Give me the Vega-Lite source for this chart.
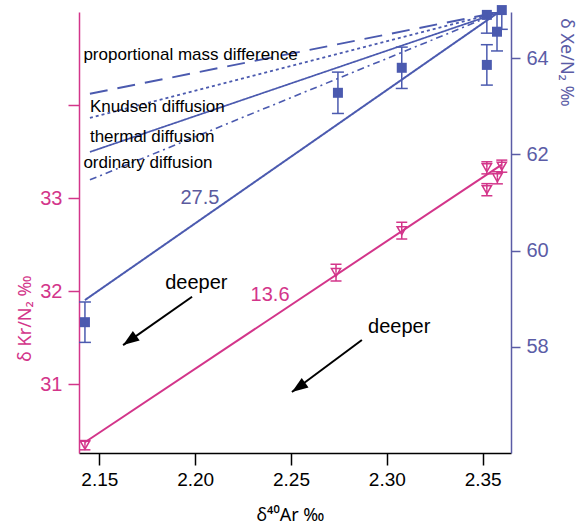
{
  "$schema": "https://vega.github.io/schema/vega-lite/v6.json",
  "width": 432,
  "height": 441,
  "autosize": {"type": "none"},
  "padding": {"left": 79, "top": 12, "right": 77, "bottom": 75},
  "background": "white",
  "config": {"view": {"stroke": null}, "font": "Liberation Sans", "axis": {"grid": false}},
  "datasets": {
    "kr": [
      {"x": 2.1425, "y": 30.344, "lo": 30.294, "hi": 30.394},
      {"x": 2.2735, "y": 32.2, "lo": 32.11, "hi": 32.29},
      {"x": 2.3078, "y": 32.65, "lo": 32.56, "hi": 32.74},
      {"x": 2.3522, "y": 33.325, "lo": 33.26, "hi": 33.39},
      {"x": 2.3522, "y": 33.09, "lo": 33.025, "hi": 33.155},
      {"x": 2.3577, "y": 33.218, "lo": 33.153, "hi": 33.283},
      {"x": 2.36, "y": 33.343, "lo": 33.278, "hi": 33.408}
    ],
    "krfit": [
      {"x": 2.1425, "y": 30.376},
      {"x": 2.36, "y": 33.36}
    ],
    "xe": [
      {"x": 2.1425, "y": 58.51, "lo": 58.09, "hi": 58.93},
      {"x": 2.2745, "y": 63.28, "lo": 62.85, "hi": 63.71},
      {"x": 2.3078, "y": 63.8, "lo": 63.37, "hi": 64.23},
      {"x": 2.3522, "y": 63.86, "lo": 63.44, "hi": 64.28},
      {"x": 2.3522, "y": 64.9, "lo": 64.52, "hi": 65.28},
      {"x": 2.3575, "y": 64.55, "lo": 64.15, "hi": 64.95},
      {"x": 2.36, "y": 65.0, "lo": 64.6, "hi": 65.4}
    ],
    "xelines": [
      {"line": "fit", "x": 2.1425, "y": 58.97},
      {"line": "fit", "x": 2.36, "y": 65.0},
      {"line": "prop", "x": 2.1451, "y": 63.26},
      {"line": "prop", "x": 2.36, "y": 64.97},
      {"line": "knudsen", "x": 2.1451, "y": 62.76},
      {"line": "knudsen", "x": 2.36, "y": 64.97},
      {"line": "thermal", "x": 2.1451, "y": 62.05},
      {"line": "thermal", "x": 2.36, "y": 64.97},
      {"line": "ordinary", "x": 2.1451, "y": 61.47},
      {"line": "ordinary", "x": 2.36, "y": 64.97}
    ],
    "modellabels": [
      {"x": 2.1417, "y": 64.07, "label": "proportional mass difference"},
      {"x": 2.1451, "y": 62.99, "label": "Knudsen diffusion"},
      {"x": 2.1451, "y": 62.36, "label": "thermal diffusion"},
      {"x": 2.1417, "y": 61.82, "label": "ordinary diffusion"}
    ],
    "deeper": [
      {"x": 2.1844, "y": 32.09, "label": "deeper"},
      {"x": 2.2902, "y": 31.615, "label": "deeper"}
    ],
    "arrows": [
      {"x": 2.1624, "y": 31.42, "x2": 2.1984, "y2": 31.94},
      {"x": 2.2505, "y": 30.915, "x2": 2.287, "y2": 31.475}
    ]
  },
  "encoding": {
    "x": {
      "field": "x", "type": "quantitative",
      "scale": {"domain": [2.1394, 2.3648], "nice": false, "zero": false},
      "axis": {
        "title": "δ⁴⁰Ar ‰", "values": [2.15, 2.2, 2.25, 2.3, 2.35], "format": ".2f",
        "domainColor": "black", "domainWidth": 1.5, "tickColor": "black", "tickWidth": 1.5, "tickSize": 12,
        "labelFontSize": 19, "labelColor": "black", "labelPadding": 5,
        "titleFont": "Noto Sans", "titleFontSize": 18, "titleFontWeight": "normal", "titleColor": "black",
        "titleX": 211, "titleY": 62, "titleBaseline": "middle", "titleAlign": "center"
      }
    }
  },
  "layer": [
    {
      "encoding": {
        "y": {
          "field": "y", "type": "quantitative",
          "scale": {"domain": [30.26, 35.0], "nice": false, "zero": false},
          "axis": {
            "orient": "left", "title": "δ Kr/N₂ ‰", "values": [31, 32, 33, 34],
            "labelExpr": "datum.value == 34 ? '' : datum.label",
            "domainColor": "#d3358a", "domainWidth": 1.5, "tickColor": "#d3358a", "tickWidth": 1.5, "tickSize": 11,
            "labelColor": "#d3358a", "labelFontSize": 20, "labelPadding": 6,
            "titleFont": "Noto Sans", "titleColor": "#d3358a", "titleFontSize": 18, "titleFontWeight": "normal",
            "titleAngle": -90, "titleX": -54, "titleY": 306, "titleAlign": "center", "titleBaseline": "middle"
          }
        }
      },
      "layer": [
        {
          "data": {"name": "krfit"},
          "mark": {"type": "line", "color": "#d3358a", "strokeWidth": 2}
        },
        {
          "data": {"name": "kr"},
          "mark": {"type": "point", "shape": "triangle-down", "filled": false, "size": 85, "strokeWidth": 1.5, "color": "#d3358a", "opacity": 1}
        },
        {
          "data": {"name": "kr"},
          "mark": {"type": "rule", "color": "#d3358a", "strokeWidth": 1.5},
          "encoding": {"y2": {"field": "hi"}}
        },
        {
          "data": {"name": "kr"},
          "mark": {"type": "rule", "color": "#d3358a", "strokeWidth": 1.5},
          "encoding": {"y2": {"field": "lo"}}
        },
        {
          "data": {"name": "kr"},
          "mark": {"type": "tick", "orient": "horizontal", "size": 11, "thickness": 1.5, "color": "#d3358a", "opacity": 1},
          "encoding": {
            "y": {
              "field": "hi", "type": "quantitative",
              "scale": {"domain": [30.26, 35.0], "nice": false, "zero": false},
              "axis": {
                "orient": "left", "title": "δ Kr/N₂ ‰", "values": [31, 32, 33, 34],
                "labelExpr": "datum.value == 34 ? '' : datum.label",
                "domainColor": "#d3358a", "domainWidth": 1.5, "tickColor": "#d3358a", "tickWidth": 1.5, "tickSize": 11,
                "labelColor": "#d3358a", "labelFontSize": 20, "labelPadding": 6,
                "titleFont": "Noto Sans", "titleColor": "#d3358a", "titleFontSize": 18, "titleFontWeight": "normal",
                "titleAngle": -90, "titleX": -54, "titleY": 306, "titleAlign": "center", "titleBaseline": "middle"
              }
            }
          }
        },
        {
          "data": {"name": "kr"},
          "mark": {"type": "tick", "orient": "horizontal", "size": 11, "thickness": 1.5, "color": "#d3358a", "opacity": 1},
          "encoding": {
            "y": {
              "field": "lo", "type": "quantitative",
              "scale": {"domain": [30.26, 35.0], "nice": false, "zero": false},
              "axis": {
                "orient": "left", "title": "δ Kr/N₂ ‰", "values": [31, 32, 33, 34],
                "labelExpr": "datum.value == 34 ? '' : datum.label",
                "domainColor": "#d3358a", "domainWidth": 1.5, "tickColor": "#d3358a", "tickWidth": 1.5, "tickSize": 11,
                "labelColor": "#d3358a", "labelFontSize": 20, "labelPadding": 6,
                "titleFont": "Noto Sans", "titleColor": "#d3358a", "titleFontSize": 18, "titleFontWeight": "normal",
                "titleAngle": -90, "titleX": -54, "titleY": 306, "titleAlign": "center", "titleBaseline": "middle"
              }
            }
          }
        },
        {
          "data": {"name": "deeper"},
          "mark": {"type": "text", "align": "left", "baseline": "middle", "fontSize": 20, "color": "black"},
          "encoding": {"text": {"field": "label"}}
        },
        {
          "data": {"values": [{"x": 2.2391, "y": 31.96, "label": "13.6"}]},
          "mark": {"type": "text", "align": "center", "baseline": "middle", "fontSize": 20, "color": "#d3358a"},
          "encoding": {"text": {"field": "label"}}
        },
        {
          "data": {"name": "arrows"},
          "mark": {"type": "rule", "color": "black", "strokeWidth": 2},
          "encoding": {"x2": {"field": "x2"}, "y2": {"field": "y2"}}
        },
        {
          "data": {"name": "arrows"},
          "mark": {"type": "point", "shape": "M0,0L1.3,3.6L-1.3,3.6Z", "filled": true, "size": 81, "angle": 234.5, "color": "black", "opacity": 1}
        }
      ]
    },
    {
      "encoding": {
        "y": {
          "field": "y", "type": "quantitative",
          "scale": {"domain": [55.79, 64.96], "nice": false, "zero": false},
          "axis": {
            "orient": "right", "title": "δ Xe/N₂ ‰", "values": [58, 60, 62, 64],
            "domainColor": "#5b5ca6", "domainWidth": 1.5, "tickColor": "#5b5ca6", "tickWidth": 1.5, "tickSize": 9,
            "labelColor": "#5b5ca6", "labelFontSize": 20, "labelPadding": 6,
            "titleFont": "Noto Sans", "titleColor": "#5b5ca6", "titleFontSize": 18, "titleFontWeight": "normal",
            "titleAngle": 90, "titleX": 54, "titleY": 50, "titleAlign": "center", "titleBaseline": "middle"
          }
        }
      },
      "layer": [
        {
          "data": {"name": "xelines"},
          "mark": {"type": "line", "color": "#4b5aaf"},
          "encoding": {
            "detail": {"field": "line"},
            "strokeDash": {
              "field": "line", "type": "nominal", "legend": null,
              "scale": {"domain": ["fit", "prop", "knudsen", "thermal", "ordinary"], "range": [[1, 0], [18, 10], [3, 3], [1, 0], [7, 4, 2, 4]]}
            },
            "strokeWidth": {
              "field": "line", "type": "nominal", "legend": null,
              "scale": {"domain": ["fit", "prop", "knudsen", "thermal", "ordinary"], "range": [2, 1.6, 1.6, 1.6, 1.6]}
            }
          }
        },
        {
          "data": {"name": "xe"},
          "mark": {"type": "point", "shape": "square", "filled": true, "size": 100, "color": "#4b5aaf", "opacity": 1}
        },
        {
          "data": {"name": "xe"},
          "mark": {"type": "rule", "color": "#4b5aaf", "strokeWidth": 1.5, "clip": true},
          "encoding": {"y2": {"field": "hi"}}
        },
        {
          "data": {"name": "xe"},
          "mark": {"type": "rule", "color": "#4b5aaf", "strokeWidth": 1.5, "clip": true},
          "encoding": {"y2": {"field": "lo"}}
        },
        {
          "data": {"name": "xe"},
          "mark": {"type": "tick", "orient": "horizontal", "size": 12, "thickness": 1.5, "color": "#4b5aaf", "opacity": 1, "clip": true},
          "encoding": {
            "y": {
              "field": "hi", "type": "quantitative",
              "scale": {"domain": [55.79, 64.96], "nice": false, "zero": false},
              "axis": {
                "orient": "right", "title": "δ Xe/N₂ ‰", "values": [58, 60, 62, 64],
                "domainColor": "#5b5ca6", "domainWidth": 1.5, "tickColor": "#5b5ca6", "tickWidth": 1.5, "tickSize": 9,
                "labelColor": "#5b5ca6", "labelFontSize": 20, "labelPadding": 6,
                "titleFont": "Noto Sans", "titleColor": "#5b5ca6", "titleFontSize": 18, "titleFontWeight": "normal",
                "titleAngle": 90, "titleX": 54, "titleY": 50, "titleAlign": "center", "titleBaseline": "middle"
              }
            }
          }
        },
        {
          "data": {"name": "xe"},
          "mark": {"type": "tick", "orient": "horizontal", "size": 12, "thickness": 1.5, "color": "#4b5aaf", "opacity": 1, "clip": true},
          "encoding": {
            "y": {
              "field": "lo", "type": "quantitative",
              "scale": {"domain": [55.79, 64.96], "nice": false, "zero": false},
              "axis": {
                "orient": "right", "title": "δ Xe/N₂ ‰", "values": [58, 60, 62, 64],
                "domainColor": "#5b5ca6", "domainWidth": 1.5, "tickColor": "#5b5ca6", "tickWidth": 1.5, "tickSize": 9,
                "labelColor": "#5b5ca6", "labelFontSize": 20, "labelPadding": 6,
                "titleFont": "Noto Sans", "titleColor": "#5b5ca6", "titleFontSize": 18, "titleFontWeight": "normal",
                "titleAngle": 90, "titleX": 54, "titleY": 50, "titleAlign": "center", "titleBaseline": "middle"
              }
            }
          }
        },
        {
          "data": {"name": "modellabels"},
          "mark": {"type": "text", "align": "left", "baseline": "middle", "fontSize": 17, "color": "black"},
          "encoding": {"text": {"field": "label"}}
        },
        {
          "data": {"values": [{"x": 2.2025, "y": 61.09, "label": "27.5"}]},
          "mark": {"type": "text", "align": "center", "baseline": "middle", "fontSize": 20, "color": "#5b5a9e"},
          "encoding": {"text": {"field": "label"}}
        }
      ]
    }
  ],
  "resolve": {"scale": {"y": "independent"}}
}
